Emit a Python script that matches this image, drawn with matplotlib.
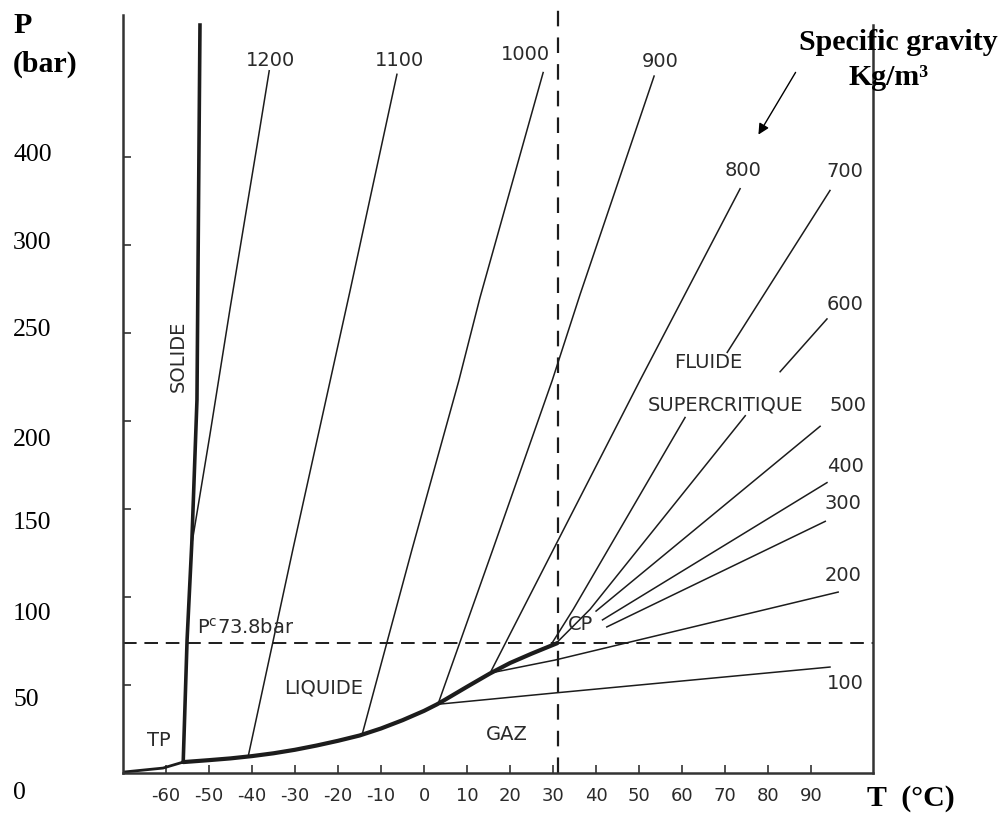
import numpy as np
import matplotlib
matplotlib.use("Agg")
import matplotlib.pyplot as plt
import matplotlib.transforms as mtransforms

# CO2 phase diagram, T in degC, P in bar
sat_T = [-56.0, -50.0, -45.0, -40.0, -35.0, -30.0, -25.0, -20.0, -15.0, -10.0, -5.0,
         0.0, 3.0, 5.0, 10.0, 15.3, 20.0, 25.0, 31.0]
sat_P = [6.2, 7.3, 8.3, 9.6, 11.2, 13.2, 15.6, 18.3, 21.3, 25.3, 30.0,
         35.3, 39.0, 41.8, 49.0, 56.5, 62.5, 67.8, 73.8]

melt_T = [-56.0, -55.1, -54.0, -52.8, -52.3, -52.1]
melt_P = [6.2, 75.6, 130.7, 212.0, 365.0, 425.0]

subl_T = [-70.0, -60.7, -56.0]
subl_P = [0.5, 2.8, 6.2]

# isochores (kg/m3)
iso_1200_T = [-54.0, -49.8, -45.1, -38.8, -36.0]
iso_1200_P = [130.0, 192.0, 264.0, 357.0, 399.0]
iso_1100_T = [-40.9, -30.5, -17.2, -6.3]
iso_1100_P = [9.3, 127.0, 274.0, 397.0]
iso_1000_T = [-14.4, -2.8, 8.1, 13.0, 27.7]
iso_1000_P = [21.8, 127.0, 223.0, 270.0, 398.0]
iso_900_T = [3.3, 16.0, 29.8, 36.3, 53.5]
iso_900_P = [39.5, 127.0, 223.0, 272.0, 396.0]
iso_800_T = [15.3, 50.2, 73.5]
iso_800_P = [56.5, 223.0, 332.0]
iso_700_T = [29.3, 34.7, 60.7, np.nan, 70.5, 94.4]
iso_700_P = [72.0, 93.0, 202.0, np.nan, 239.0, 331.0]
iso_600_T = [30.5, 38.6, 74.7, np.nan, 82.8, 93.7]
iso_600_P = [73.2, 93.0, 203.0, np.nan, 228.0, 258.0]
iso_500_T = [40.0, 92.1]
iso_500_P = [92.0, 197.0]
iso_400_T = [41.5, 93.7]
iso_400_P = [87.0, 165.0]
iso_300_T = [42.5, 93.3]
iso_300_P = [83.0, 143.0]
iso_200_T = [15.8, 30.5, 96.3]
iso_200_P = [57.0, 64.2, 102.8]
iso_100_T = [3.0, 30.5, 94.4]
iso_100_P = [39.0, 45.5, 60.2]

P_crit = 73.8
T_crit = 31.1

x_ticks = [-60, -50, -40, -30, -20, -10, 0, 10, 20, 30, 40, 50, 60, 70, 80, 90]
y_ticks = [50, 100, 150, 200, 250, 300, 350]

# labels written on the left of the scan (not on the ticks)
ylab_text = ["0", "50", "100", "150", "200", "250", "300", "400"]
ylab_pos = [-11.4, 41.5, 90.3, 142.0, 189.2, 251.7, 301.0, 351.0]

fig = plt.figure(figsize=(10.05, 8.14), dpi=100)
ax = fig.add_axes([123 / 1005, 41 / 814, 750 / 1005, 758 / 814])
ax.set_xlim(-70, 104.4)
ax.set_ylim(0, 430.7)

ink = "#1c1c1c"
lab_font = dict(family="DejaVu Sans", fontsize=14, color="#2a2a2a")

ax.plot(sat_T, sat_P, color=ink, lw=3.0, solid_capstyle="round", solid_joinstyle="round")
ax.plot(melt_T, melt_P, color=ink, lw=2.6)
ax.plot(subl_T, subl_P, color=ink, lw=2.0)

isos = [
    (iso_1200_T, iso_1200_P), (iso_1100_T, iso_1100_P), (iso_1000_T, iso_1000_P),
    (iso_900_T, iso_900_P), (iso_800_T, iso_800_P), (iso_700_T, iso_700_P),
    (iso_600_T, iso_600_P), (iso_500_T, iso_500_P), (iso_400_T, iso_400_P),
    (iso_300_T, iso_300_P), (iso_200_T, iso_200_P), (iso_100_T, iso_100_P),
]
for tt, pp in isos:
    ax.plot(tt, pp, color=ink, lw=1.1)

# critical pressure / temperature
ax.axhline(P_crit, color=ink, lw=1.4, ls=(0, (7, 4)))
ax.plot([T_crit, T_crit], [0, 434], color=ink, lw=1.6, ls=(0, (7, 5)), clip_on=False)

# isochore labels
iso_labels = [
    ("1200", -35.6, 405), ("1100", -5.6, 405), ("1000", 23.5, 408), ("900", 54.9, 404),
    ("800", 74.2, 342.6), ("700", 97.9, 341.5), ("600", 97.9, 266), ("500", 98.6, 209),
    ("400", 97.9, 173.9), ("300", 97.4, 153.4), ("200", 97.4, 112.5), ("100", 97.9, 51.1),
]
for s, tx, py in iso_labels:
    ax.text(tx, py, s, ha="center", va="center", **lab_font)

ax.text(-57.2, 237, "SOLIDE", rotation=90, ha="center", va="center", **lab_font)
ax.text(-23.3, 48.3, "LIQUIDE", ha="center", va="center", **lab_font)
ax.text(-61.6, 18.2, "TP", ha="center", va="center", **lab_font)
ax.text(19.3, 21.6, "GAZ", ha="center", va="center", **lab_font)
ax.text(36.5, 84.1, "CP", ha="center", va="center", **lab_font)
ax.text(66.0, 233, "FLUIDE", ha="center", va="center", **lab_font)
ax.text(70.0, 209, "SUPERCRITIQUE", ha="center", va="center", **lab_font)
ax.text(-52.8, 82.4, r"P$^{\mathrm{c}}$73.8bar", ha="left", va="center", **lab_font)

# axes styling
ax.spines["top"].set_visible(False)
for side in ["left", "right", "bottom"]:
    ax.spines[side].set_color("#333333")
    ax.spines[side].set_linewidth(1.8)
ax.spines["right"].set_bounds(0, 425)

ax.set_xticks(x_ticks)
ax.set_xticklabels([str(v) for v in x_ticks], family="DejaVu Sans", fontsize=13, color="#2a2a2a")
ax.set_yticks(y_ticks)
ax.set_yticklabels([])
ax.tick_params(axis="both", direction="in", length=6, width=1.2, color="#333333")
ax.tick_params(axis="x", pad=10)

trans = mtransforms.blended_transform_factory(fig.transFigure, ax.transData)
for s, yv in zip(ylab_text, ylab_pos):
    ax.text(0.013, yv, s, transform=trans, ha="left", va="center",
            family="Liberation Serif", fontsize=18.5, clip_on=False)

serif_bold = dict(family="Liberation Serif", fontweight="bold", fontsize=21.5, color="black")
fig.text(0.013, 1 - 33 / 814, "P", ha="left", va="baseline", **serif_bold)
fig.text(0.013, 1 - 72 / 814, "(bar)", ha="left", va="baseline", **serif_bold)
fig.text(867 / 1005, 1 - 806 / 814, "T  (\u00b0C)", ha="left", va="baseline", **serif_bold)
fig.text(898 / 1005, 1 - 50 / 814, "Specific gravity", ha="center", va="baseline", **serif_bold)
fig.text(889 / 1005, 1 - 85 / 814, "Kg/m\u00b3", ha="center", va="baseline", **serif_bold)

ax.annotate("", xy=(757 / 1005, 1 - 137 / 814), xytext=(797 / 1005, 1 - 70 / 814),
            xycoords="figure fraction", textcoords="figure fraction",
            arrowprops=dict(arrowstyle="-|>", color="black", lw=1.0, mutation_scale=16))

fig.savefig("out.png", dpi=100)
